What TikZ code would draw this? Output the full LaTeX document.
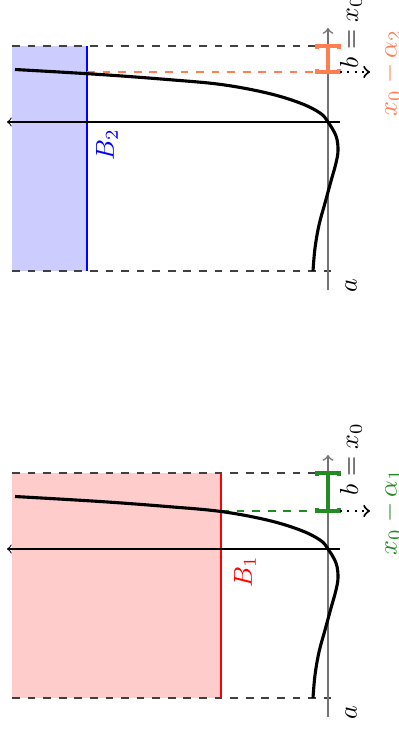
\documentclass[tikz,border=0pt]{standalone}
\usepackage{amsmath}
\definecolor{fgreen}{RGB}{34,139,34}
\definecolor{coralc}{RGB}{255,127,80}
\newcommand\plotpanel[8]{%
\begin{scope}[shift={(0,#1)}]
 \fill[#2] (12,473) rectangle (#4,698);
 \draw[guide] (12,473) -- (335,473);
 \draw[guide] (12,698) -- (335,698);
 \draw[blevel,#3] (#4,473) -- (#4,698);
 \draw[guide,#6] (#4,#5) -- (328,#5);
 \draw[axisy] (340,549) -- (7,549);
 \draw[axisx] (328,717) -- (328,455);
 \draw[curve] plot[smooth,tension=0.6] coordinates {(313,698) (315,675) (319,652) (325,630) (331,608) (336,590) (338,577) (336,563) (328,549) (320,540) (300,530) (267,520) (221,511.5) (167,506.5) (100,501.5) (15,496.5)};
 \draw[interval,#6] (328,473) -- (328,#5);
 \draw[interval,#6] (317,476) -- (317,473) -- (339,473) -- (339,476);
 \draw[interval,#6] (317,#5-3) -- (317,#5) -- (339,#5) -- (339,#5-3);
 \draw[probe] (340,#5) -- (370,#5);
 \node[lbl] (a#7) at (351,713) {$a$};
 \node[lbl] (b#7) at (351,459) {$b = x_0$};
 \node[lbl,text=#3] (B#7) at (#8,572) {$B_{#7}$};
 \node[lbl,text=#6] (x#7) at (391,#5+1) {$x_0 - \alpha_{#7}$};
\end{scope}}
\begin{document}
\begin{tikzpicture}[x=0.385pt,y=-0.385pt,
  curve/.style={very thick, line join=round},
  axisx/.style={black!55, semithick, ->},
  axisy/.style={black, thin, ->},
  guide/.style={dashed, black!75, thin},
  blevel/.style={thick},
  lbl/.style={rotate=90, inner sep=0pt},
  interval/.style={very thick},
  probe/.style={dotted, thick, ->}]
\useasboundingbox (0,0) rectangle (398,738);
\plotpanel{0}{red!20}{red}{221}{511}{fgreen}{1}{245}
\plotpanel{-427}{blue!20}{blue}{87}{499}{coralc}{2}{107}
\end{tikzpicture}
\end{document}
